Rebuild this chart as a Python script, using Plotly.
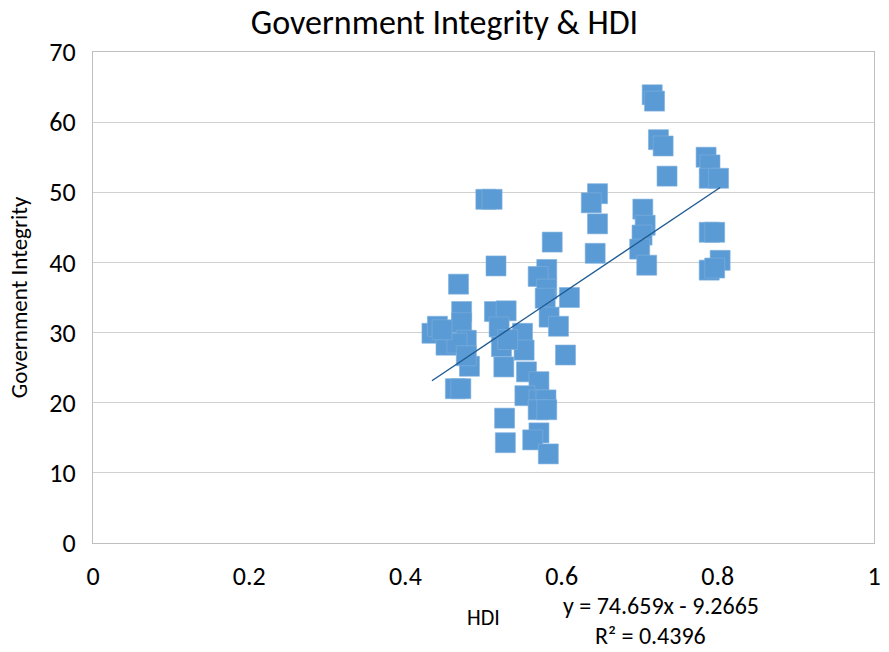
import plotly.graph_objects as go

# HDI (x) and Government Integrity (y) values
hdi = [0.716, 0.719, 0.724, 0.730, 0.735, 0.785, 0.790, 0.789, 0.801, 0.789,
       0.796, 0.803, 0.789, 0.796, 0.646, 0.638, 0.646, 0.643, 0.704, 0.707,
       0.703, 0.700, 0.709, 0.503, 0.511, 0.588, 0.516, 0.581, 0.570, 0.581,
       0.579, 0.610, 0.584, 0.596, 0.605, 0.468, 0.434, 0.441, 0.452, 0.472,
       0.472, 0.478, 0.466, 0.482, 0.478, 0.464, 0.471, 0.514, 0.529, 0.520,
       0.523, 0.526, 0.550, 0.552, 0.555, 0.571, 0.553, 0.571, 0.580, 0.570,
       0.581, 0.527, 0.528, 0.571, 0.563, 0.583, 0.447, 0.531]
integrity = [63.9, 63.0, 57.5, 56.6, 52.3, 55.0, 53.9, 52.0, 52.0, 44.3,
             44.3, 40.3, 38.9, 39.2, 49.8, 48.5, 45.5, 41.3, 47.6, 45.3,
             43.9, 41.9, 39.6, 49.0, 49.0, 42.9, 39.5, 39.0, 38.0, 36.2,
             34.9, 35.0, 32.2, 30.9, 26.8, 36.9, 29.9, 30.9, 28.2, 33.0,
             31.4, 28.9, 28.5, 25.2, 26.7, 22.0, 22.0, 33.0, 33.1, 30.8,
             28.0, 25.1, 29.9, 27.5, 24.4, 23.0, 21.0, 20.4, 20.4, 19.0,
             19.0, 17.8, 14.3, 15.7, 14.7, 12.7, 30.4, 29.0]

# Trendline as reported on the chart
slope = 74.659
intercept = -9.2665
r2 = 0.4396

x_ticks = [0, 0.2, 0.4, 0.6, 0.8, 1]
x_tick_text = ["0", "0.2", "0.4", "0.6", "0.8", "1"]
y_ticks = [0, 10, 20, 30, 40, 50, 60, 70]

FONT = "Carlito, Calibri, Lato, sans-serif"

x_line = [min(hdi), max(hdi)]
y_line = [slope * v + intercept for v in x_line]

fig = go.Figure()
fig.add_trace(go.Scatter(
    x=hdi, y=integrity, mode="markers",
    marker=dict(symbol="square", size=20, color="#5b9bd5",
                line=dict(width=0.6, color="#7fb0dd")),
    showlegend=False, hoverinfo="x+y",
))
fig.add_trace(go.Scatter(
    x=x_line, y=y_line, mode="lines",
    line=dict(color="#1f5b94", width=1.4),
    showlegend=False, hoverinfo="skip",
))

fig.update_layout(
    width=889, height=652,
    margin=dict(l=93, r=8, t=52, b=109),
    paper_bgcolor="white", plot_bgcolor="white",
    font=dict(family=FONT, color="#000000", size=20),
    title=dict(text="Government Integrity & HDI", x=0.5, xanchor="center",
               y=0.966, yanchor="middle",
               font=dict(family=FONT, size=34, color="#000000")),
    xaxis=dict(range=[0, 1], tickvals=x_ticks, ticktext=x_tick_text,
               showgrid=False, zeroline=False, showline=True, mirror=True,
               linecolor="#bfbfbf", linewidth=1.3, ticks="",
               ticklabelstandoff=10,
               tickfont=dict(family=FONT, size=26, color="#000000")),
    yaxis=dict(range=[0, 70], tickvals=y_ticks,
               showgrid=True, gridcolor="#d0d0d0", gridwidth=1.3,
               zeroline=False, showline=True, mirror=True,
               linecolor="#bfbfbf", linewidth=1.3, ticks="",
               ticklabelstandoff=11,
               tickfont=dict(family=FONT, size=26, color="#000000")),
    annotations=[
        dict(text="Government Integrity", xref="paper", yref="paper",
             x=-0.095, y=0.5, textangle=-90, showarrow=False,
             xanchor="center", yanchor="middle",
             font=dict(family=FONT, size=23, color="#000000")),
        dict(text="HDI", xref="paper", yref="paper",
             x=0.5, y=-0.151, showarrow=False,
             xanchor="center", yanchor="middle",
             font=dict(family=FONT, size=22, color="#000000")),
        dict(text=f"y = {slope}x - {abs(intercept)}", xref="paper", yref="paper",
             x=0.727, y=-0.128, showarrow=False,
             xanchor="center", yanchor="middle",
             font=dict(family=FONT, size=24, color="#000000")),
        dict(text=f"R² = {r2}", xref="paper", yref="paper",
             x=0.714, y=-0.189, showarrow=False,
             xanchor="center", yanchor="middle",
             font=dict(family=FONT, size=24, color="#000000")),
    ],
)

fig.write_html("out.html")
